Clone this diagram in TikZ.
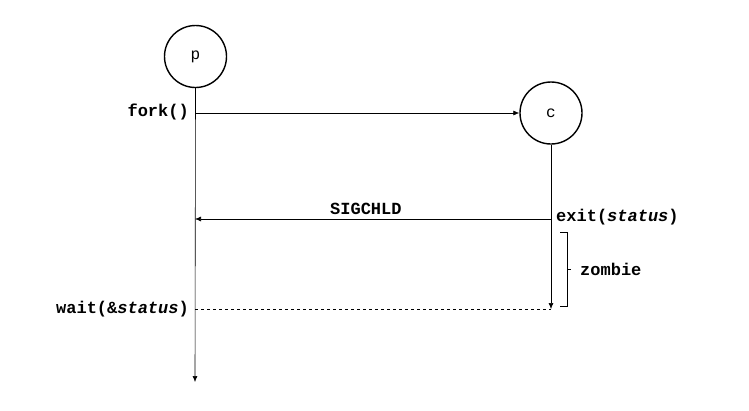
\documentclass[tikz,border=0pt]{standalone}
\usepackage{fontspec}
\setmonofont{Liberation Mono}
\usetikzlibrary{arrows.meta,decorations.pathreplacing}
\begin{document}
\begin{tikzpicture}[x=1pt,y=-1pt,
  proc/.style={draw,circle,line width=1.4pt,minimum size=62pt,inner sep=0pt,font=\ttfamily\fontsize{16}{18}\selectfont},
  lbl/.style={font=\ttfamily\bfseries\fontsize{17}{19}\selectfont,inner sep=0pt},
  arr/.style={-{Latex[length=6pt,width=5pt]},line width=0.6pt},
  >=Latex]
\useasboundingbox (0,0) rectangle (749,410);
\node[proc] (p) at (195.5,56.5) {p};
\node[proc] (c) at (551,113) {c};
\coordinate (pend) at (195,382);
\coordinate (cend) at (551,309);
\coordinate (pfork) at (195,113);
\coordinate (psig) at (195,219);
\coordinate (csig) at (551,219);
\coordinate (pwait) at (195,309);
\draw[arr] (p.south) -- (pend);
\draw[arr] (c.south) -- (cend);
\draw[arr] (pfork) -- (c.west);
\draw[arr] (csig) -- node[pos=0.52,above=4pt,lbl] (sig) {SIGCHLD} (psig);
\draw[dashed,line width=0.6pt] (pwait) -- (cend);
\node[lbl,anchor=east] (fork) at (189,112) {fork()};
\node[lbl,anchor=east] (wait) at (189,309) {wait(\&\textit{status})};
\node[lbl,anchor=west] (exit) at (556,217) {exit(\textit{status})};
\coordinate (b1) at (560,232);
\coordinate (b2) at (560,306);
\draw[line width=0.6pt] (b1) -- ++(7,0) -- ++(0,74) -- ++(-7,0);
\draw[line width=0.6pt] (567,269) -- ++(4,0);
\node[lbl,anchor=west] (zombie) at (580,269) {zombie};
\end{tikzpicture}
\end{document}
